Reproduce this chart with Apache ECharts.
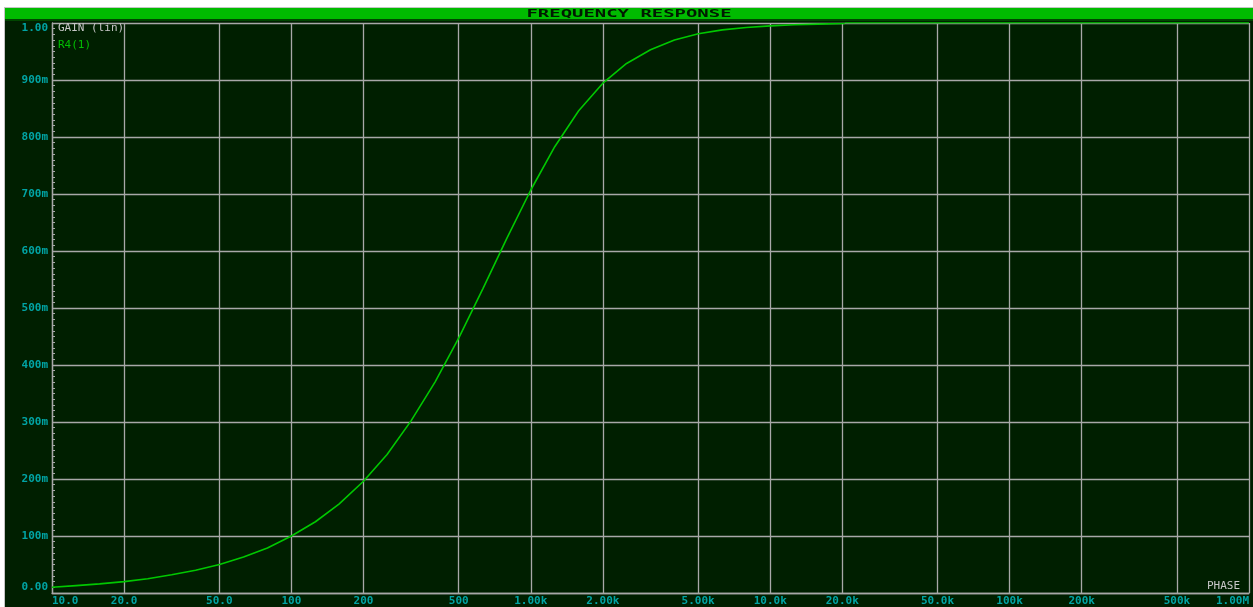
<!DOCTYPE html>
<html>
<head>
<meta charset="utf-8">
<script src="https://cdn.jsdelivr.net/npm/echarts@6/dist/echarts.min.js"></script>
<style>
  html, body { margin: 0; padding: 0; background: #ffffff; }
  #chart { width: 1253px; height: 607px; }
</style>
</head>
<body>
<div id="chart"></div>
<script>
// Sweep frequencies (Hz) and the linear gain measured at R4(1)
const freqHz = [10, 12.6, 15.8, 20, 25.1, 31.6, 39.8, 50.1, 63.1, 79.4,
  100, 126, 158, 200, 251, 316, 398, 501, 631, 794,
  1000, 1259, 1585, 1995, 2512, 3162, 3981, 5012, 6310, 7943,
  10000, 12589, 15849, 19953, 20500];
const gainR4 = [0.010, 0.013, 0.016, 0.020, 0.025, 0.032, 0.040, 0.050, 0.063, 0.079,
  0.100, 0.125, 0.156, 0.196, 0.243, 0.302, 0.370, 0.448, 0.534, 0.622,
  0.707, 0.783, 0.846, 0.894, 0.929, 0.953, 0.970, 0.981, 0.988, 0.992,
  0.995, 0.997, 0.998, 0.999, 0.999];

// Frequency axis divisions (1-2-5 per decade) and their labels
const freqTicks = [10, 20, 50, 100, 200, 500, 1e3, 2e3, 5e3, 1e4, 2e4, 5e4, 1e5, 2e5, 5e5, 1e6];
const freqTickLabels = ['10.0', '20.0', '50.0', '100', '200', '500', '1.00k', '2.00k', '5.00k',
  '10.0k', '20.0k', '50.0k', '100k', '200k', '500k', '1.00M'];

// Gain axis labels, one per 0.1 step from 0 to 1
const gainTickLabels = ['0.00', '100m', '200m', '300m', '400m', '500m', '600m', '700m', '800m', '900m', '1.00'];

const BG = '#001f00';
const GRID = '#a8a8a8';
const LABEL = '#00a4a4';
const TRACE = '#00c800';
const MONO = '"DejaVu Sans Mono", "Liberation Mono", monospace';

function freqLabel(v) {
  let best = 0, bestD = Infinity;
  freqTicks.forEach((t, i) => {
    const d = Math.abs(Math.log10(v) - Math.log10(t));
    if (d < bestD) { bestD = d; best = i; }
  });
  return freqTickLabels[best];
}

const chart = echarts.init(document.getElementById('chart'), null, { renderer: 'canvas' });

chart.setOption({
  backgroundColor: BG,
  animation: false,
  grid: { left: 52, right: 4, top: 23, bottom: 10, containLabel: false },
  legend: {
    data: ['R4(1)'],
    left: 53, top: 40,
    icon: 'none', itemWidth: 0, itemHeight: 0, itemGap: 0,
    padding: 0,
    textStyle: { color: '#00c000', fontFamily: MONO, fontSize: 11 },
    selectedMode: false
  },
  xAxis: {
    type: 'log',
    logBase: 10,
    min: 10,
    max: 1e6,
    axisLine: { show: true, lineStyle: { color: GRID, width: 1.3 } },
    axisTick: { show: false, customValues: freqTicks },
    minorTick: { show: false },
    splitLine: { show: true, lineStyle: { color: GRID, width: 1.3 } },
    minorSplitLine: { show: false },
    axisLabel: {
      customValues: freqTicks,
      formatter: v => freqLabel(v),
      color: LABEL,
      fontFamily: MONO,
      fontWeight: 'bold',
      fontSize: 11,
      margin: 3,
      alignMinLabel: 'left',
      alignMaxLabel: 'right'
    }
  },
  yAxis: {
    type: 'value',
    min: 0,
    max: 1,
    interval: 0.1,
    axisLine: { show: true, lineStyle: { color: GRID, width: 1.3 } },
    axisTick: { show: true, inside: true, length: 3, lineStyle: { color: GRID } },
    minorTick: { show: true, splitNumber: 10, length: 3, lineStyle: { color: GRID } },
    splitLine: { show: true, lineStyle: { color: GRID, width: 1.3 } },
    axisLabel: {
      formatter: v => gainTickLabels[Math.round(v * 10)],
      color: LABEL,
      fontFamily: MONO,
      fontWeight: 'bold',
      fontSize: 11,
      margin: 4,
      verticalAlignMinLabel: 'bottom',
      verticalAlignMaxLabel: 'top'
    }
  },
  series: [{
    name: 'R4(1)',
    type: 'line',
    data: freqHz.map((f, i) => [f, gainR4[i]]),
    showSymbol: false,
    symbol: 'none',
    lineStyle: { color: TRACE, width: 1.6 },
    itemStyle: { color: TRACE }
  }],
  graphic: [
    // window frame: white margin and grey edge on the top and left
    { type: 'rect', shape: { x: 0, y: 0, width: 1253, height: 7 }, style: { fill: '#ffffff' }, silent: true, z: 10 },
    { type: 'rect', shape: { x: 0, y: 0, width: 4, height: 607 }, style: { fill: '#ffffff' }, silent: true, z: 10 },
    { type: 'rect', shape: { x: 4, y: 7, width: 1249, height: 1 }, style: { fill: '#c4c4c4' }, silent: true, z: 10 },
    { type: 'rect', shape: { x: 4, y: 7, width: 1, height: 600 }, style: { fill: '#c4c4c4' }, silent: true, z: 10 },
    // title bar
    { type: 'rect', shape: { x: 5, y: 8, width: 1248, height: 11 }, style: { fill: '#00bb00' }, silent: true, z: 10 },
    { type: 'rect', shape: { x: 5, y: 19, width: 1248, height: 2 }, style: { fill: '#004600' }, silent: true, z: 10 },
    {
      type: 'text', x: 629, y: 14, scaleX: 1.72, z: 11, silent: true,
      style: {
        text: 'FREQUENCY RESPONSE', fill: '#001a00',
        font: 'bold 11px ' + MONO, textAlign: 'center', textVerticalAlign: 'middle'
      }
    },
    // frame edge above the plot right of the trace
    { type: 'rect', shape: { x: 845, y: 22, width: 404, height: 1.5 }, style: { fill: '#00a000' }, silent: true, z: 5 },
    // trace captions
    {
      type: 'text', x: 58, y: 28, z: 11, silent: true,
      style: { text: 'GAIN (lin)', fill: '#c8c8c8', font: '11px ' + MONO, textVerticalAlign: 'middle' }
    },
    {
      type: 'text', x: 1240, y: 586, z: 11, silent: true,
      style: { text: 'PHASE', fill: '#c8c8c8', font: '11px ' + MONO, textAlign: 'right', textVerticalAlign: 'middle' }
    }
  ]
});
</script>
</body>
</html>
